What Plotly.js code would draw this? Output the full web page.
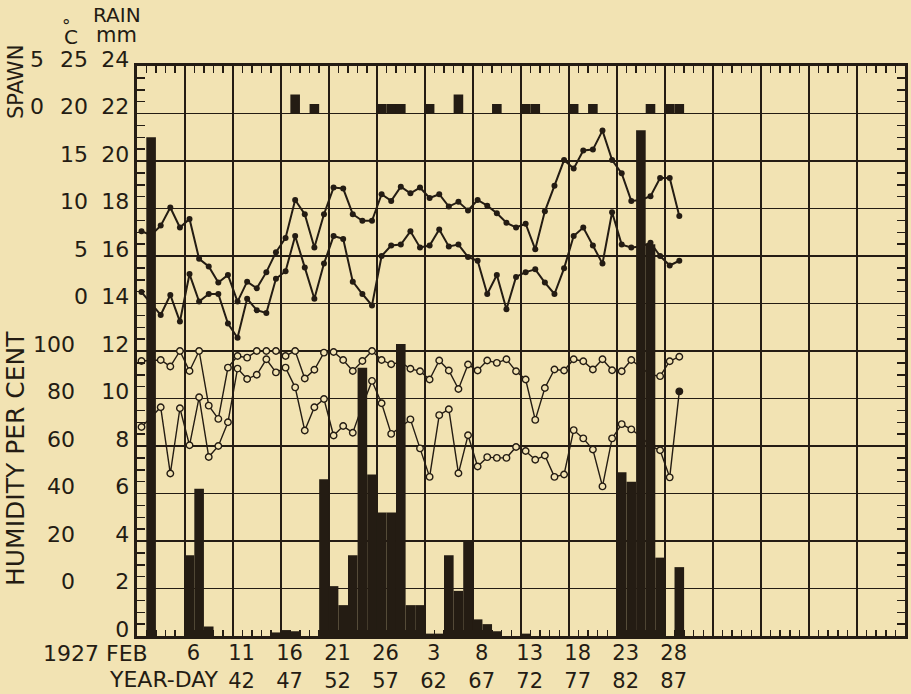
<!DOCTYPE html>
<html>
<head>
<meta charset="utf-8">
<script src="https://cdn.plot.ly/plotly-3.0.1.min.js"></script>
<style>
  html, body { margin: 0; padding: 0; background: #f2e3b3; }
  #chart { width: 911px; height: 694px; }
  #err { position: absolute; left: 150px; top: 80px; width: 700px; font: 13px monospace; color: #b00; white-space: pre-wrap; }
</style>
</head>
<body>
<div id="chart"></div>
<div id="err"></div>
<script>
function report(m) { document.getElementById('err').textContent += m + '\n'; }
window.addEventListener('unhandledrejection', ev => report('REJ: ' + (ev.reason && ev.reason.stack ? ev.reason.stack.slice(0, 400) : ev.reason)));

// ---------------- DATA ----------------
// Day index: 1 = 1 Feb 1927 ... 57 = 29 Mar 1927
const days = [1,2,3,4,5,6,7,8,9,10,11,12,13,14,15,16,17,18,19,20,
  21,22,23,24,25,26,27,28,29,30,31,32,33,34,35,36,37,38,39,40,
  41,42,43,44,45,46,47,48,49,50,51,52,53,54,55,56,57];

// Air temperature, deg C (upper = maximum, lower = minimum)
const tempMax = [7.6,7.2,8.2,10.1,8.0,8.9,4.7,3.9,2.2,3.0,
  0.2,2.3,1.6,3.3,5.4,6.9,10.9,9.4,5.9,9.4,
  12.2,12.1,9.4,8.7,8.7,11.5,10.8,12.3,11.6,12.2,
  11.1,11.5,10.2,10.7,9.8,10.9,10.3,9.5,8.5,8.0,
  8.4,5.7,9.7,12.4,15.1,14.2,16.1,16.2,18.2,15.1,
  13.7,10.8,10.9,11.3,13.2,13.2,9.2];
const tempMin = [1.2,0.0,-1.2,0.9,-1.9,3.1,0.2,1.0,1.0,-2.1,
  -3.6,0.5,-0.7,-1.0,2.6,3.4,7.1,3.8,0.5,4.2,
  7.1,6.8,2.3,1.0,-0.2,5.0,6.1,6.2,7.6,5.9,
  6.1,7.8,6.0,6.2,4.9,4.5,1.0,3.0,-0.6,2.8,
  3.3,3.6,2.2,1.0,3.7,7.1,8.0,6.1,4.2,9.6,
  6.2,5.9,6.0,6.4,5.0,4.0,4.5];

// Relative humidity, per cent
const humHigh = [95.8,96,96.2,93.5,100,91.6,100,77,71.4,93,
  97.9,97.2,100,100,100,97.9,100,88.4,92.1,99.3,
  99.6,96.2,91.6,95.8,100,96.2,94.4,95.3,92.5,91.5,
  88,96,91.8,84,94.3,91.8,96,95,96.5,91.5,
  88,71,84.4,92.2,91.8,96.5,95.7,92.2,96.5,91.9,
  91.5,96.2,93,90,89.4,95.7,97.6];
const humLow = [68,72,76.3,48.4,75.9,60.3,80.5,55.4,60,70,
  92.6,88.2,90,96.5,91,93,84.7,66.5,76.3,79.8,
  64.4,68.4,65.6,77,87.4,78,65.1,68,71.2,59,
  47,73,75.5,48.5,64.5,51.4,55.3,55,55,59.6,
  57.9,54.2,56,47,48,66.7,63.2,58.5,43,63.2,
  69.2,67,64,60,58.2,46.8,83];

// Rain, mm per day
const rain = [0,21.0,0,0,0,3.4,6.2,0.4,0,0,
  0,0,0,0,0.15,0.25,0.2,0,0,6.6,
  2.1,1.3,3.4,11.3,6.8,5.2,5.2,12.3,1.3,1.3,
  0.1,0.1,3.4,1.9,4.0,0.7,0.5,0.2,0,0,
  0.1,0,0,0,0,0,0,0,0,0,
  6.9,6.5,21.3,16.5,3.3,0,2.9];

// Spawnings
const spawnDays  = [17,19,26,27,28,31,34,38,41,42,46,48,54,56,57];
const spawnCount = [2,1,1,1,1,1,2,1,1,1,1,1,1,1,1];

// Axis ticks / labels
const labelDays    = [6,11,16,21,26,31,36,41,46,51,56];
const labelDate    = ['6','11','16','21','26','3','8','13','18','23','28'];
const labelYearDay = ['','42','47','52','57','62','67','72','77','82','87'];
const mmTicks    = [0,2,4,6,8,10,12,14,16,18,20,22,24];
const tempTicks  = [0,5,10,15,20,25];
const humTicks   = [0,20,40,60,80,100];
const spawnTicks = [0,5];

// ---------------- STYLE ----------------
const BG = '#f2e3b3';
const INK = '#241c13';
const FONT = 'DejaVu Sans';
const W = 911, H = 694, ML = 0, MR = 6, MT = 66, MB = 58;
const PW = W - ML - MR, PH = H - MT - MB;
const px = x => (x - ML) / PW;
const py = y => (H - MB - y) / PH;
const XR = [0.5, 80.5];
const YR = [0, 24];
const xDom = [px(136.7), 1];

const tickText = labelDate.map((d, i) => labelYearDay[i] ? d + '<br>' + labelYearDay[i] : d + '<br> ');
const humLowColors = humLow.map((v, i) => i === humLow.length - 1 ? INK : BG);

const none = (xa, ya) => ({ x: [null], y: [null], xaxis: xa, yaxis: ya, type: 'scatter',
  mode: 'markers', hoverinfo: 'skip', showlegend: false });

const traces = [
  none('x', 'y'),
  none('x2', 'y'), none('x3', 'y'), none('x4', 'y'), none('x', 'y6'), none('x', 'y7'),
  { x: days, y: tempMax, xaxis: 'x', yaxis: 'y2', type: 'scatter', mode: 'lines+markers',
    line: { color: INK, width: 2 }, marker: { color: INK, size: 6 } },
  { x: days, y: tempMin, xaxis: 'x', yaxis: 'y2', type: 'scatter', mode: 'lines+markers',
    line: { color: INK, width: 2 }, marker: { color: INK, size: 6 } },
  { x: days, y: humHigh, xaxis: 'x', yaxis: 'y3', type: 'scatter', mode: 'lines+markers',
    line: { color: INK, width: 1.4 },
    marker: { color: BG, size: 6.5, line: { color: INK, width: 1.4 } } },
  { x: days, y: humLow, xaxis: 'x', yaxis: 'y3', type: 'scatter', mode: 'lines+markers',
    line: { color: INK, width: 1.4 },
    marker: { color: humLowColors, size: 6.5, line: { color: INK, width: 1.4 } } },
  { x: spawnDays, y: spawnCount, xaxis: 'x', yaxis: 'y4', type: 'bar', width: 1,
    marker: { color: INK, line: { width: 0 } } },
  { x: days, y: rain, xaxis: 'x', yaxis: 'y5', type: 'bar', width: 1,
    marker: { color: INK, line: { width: 0 } } }
];

const tf = size => ({ family: FONT, size: size, color: INK });
const tickAxis = (extra) => Object.assign({
  ticks: 'inside', ticklen: 7, tickwidth: 1.5, tickcolor: INK,
  showticklabels: false, showgrid: false, zeroline: false, showline: false
}, extra);

const layout = {
  width: W, height: H,
  margin: { l: ML, r: MR, t: MT, b: MB, pad: 0 },
  paper_bgcolor: BG, plot_bgcolor: 'rgba(0,0,0,0)',
  showlegend: false, hovermode: false,
  barmode: 'overlay',
  font: tf(20),
  xaxis: {
    domain: xDom, range: XR, anchor: 'y',
    tickmode: 'array', tickvals: labelDays, ticktext: tickText,
    ticks: '', showgrid: false, zeroline: false,
    showline: true, mirror: true, linecolor: INK, linewidth: 3,
    tickfont: tf(21), ticklabelshift: 4, ticklabelstandoff: -4
  },
  // vertical grid every five days
  xaxis2: tickAxis({ overlaying: 'x', anchor: 'y', side: 'bottom', range: XR,
    tickmode: 'linear', tick0: 0.5, dtick: 5, ticks: '',
    showgrid: true, gridcolor: INK, gridwidth: 1.8 }),
  // daily ticks, top and bottom
  xaxis3: tickAxis({ overlaying: 'x', anchor: 'y', side: 'top', range: XR,
    tickmode: 'linear', tick0: 0.5, dtick: 1 }),
  xaxis4: tickAxis({ overlaying: 'x', anchor: 'y', side: 'bottom', range: XR,
    tickmode: 'linear', tick0: 0.5, dtick: 1, ticklen: 6 }),
  yaxis: {
    domain: [0, 1], range: YR, anchor: 'x',
    tickmode: 'array', tickvals: mmTicks, ticks: '',
    showgrid: true, gridcolor: INK, gridwidth: 1.8,
    showline: true, mirror: true, linecolor: INK, linewidth: 3, zeroline: false,
    tickfont: tf(22), ticklabelshift: -7, ticklabelstandoff: 0
  },
  yaxis2: {
    overlaying: 'y', anchor: 'free', position: px(88), side: 'left',
    range: [-35, 25], tickmode: 'array', tickvals: tempTicks,
    ticks: '', showgrid: false, zeroline: false, showline: false,
    tickfont: tf(22), ticklabelshift: -7
  },
  yaxis3: {
    overlaying: 'y', anchor: 'free', position: px(75), side: 'left',
    range: [-20, 220], tickmode: 'array', tickvals: humTicks,
    ticks: '', showgrid: false, zeroline: false, showline: false,
    tickfont: tf(22), ticklabelshift: -7
  },
  yaxis4: {
    overlaying: 'y', anchor: 'free', position: px(44), side: 'left',
    range: [-55, 5], tickmode: 'array', tickvals: spawnTicks,
    ticks: '', showgrid: false, zeroline: false, showline: false,
    tickfont: tf(22), ticklabelshift: -7
  },
  yaxis5: { overlaying: 'y', anchor: 'x', range: YR, visible: false },
  // half-millimetre ticks on both sides
  yaxis6: tickAxis({ overlaying: 'y', anchor: 'x', side: 'right', range: YR,
    tickmode: 'linear', tick0: 0, dtick: 0.5, ticklen: 8 }),
  yaxis7: tickAxis({ overlaying: 'y', anchor: 'x', side: 'left', range: YR,
    tickmode: 'linear', tick0: 0, dtick: 0.5, ticklen: 8 }),
  annotations: [
    { text: 'RAIN', x: px(117), y: py(15), xref: 'paper', yref: 'paper', showarrow: false,
      xanchor: 'center', yanchor: 'middle', font: tf(20) },
    { text: '°', x: px(66), y: py(26), xref: 'paper', yref: 'paper', showarrow: false,
      xanchor: 'center', yanchor: 'middle', font: tf(17) },
    { text: 'C', x: px(71), y: py(37), xref: 'paper', yref: 'paper', showarrow: false,
      xanchor: 'center', yanchor: 'middle', font: tf(20) },
    { text: 'mm', x: px(117), y: py(35.5), xref: 'paper', yref: 'paper', showarrow: false,
      xanchor: 'center', yanchor: 'middle', font: tf(21) },
    { text: 'SPAWN', x: px(16), y: py(82), xref: 'paper', yref: 'paper', showarrow: false,
      xanchor: 'center', yanchor: 'middle', textangle: -90, font: tf(21) },
    { text: 'HUMIDITY PER CENT', x: px(16), y: py(459), xref: 'paper', yref: 'paper', showarrow: false,
      xanchor: 'center', yanchor: 'middle', textangle: -90, font: tf(25) },
    { text: '1927 FEB', x: px(150), y: py(653), xref: 'paper', yref: 'paper', showarrow: false,
      xanchor: 'right', yanchor: 'middle', font: tf(22) },
    { text: 'YEAR-DAY', x: px(221), y: py(679), xref: 'paper', yref: 'paper', showarrow: false,
      xanchor: 'right', yanchor: 'middle', font: tf(22) }
  ]
};

const p = Plotly.newPlot('chart', traces, layout, { staticPlot: true, displayModeBar: false });
if (p && p.catch) p.catch(e => report('CATCH: ' + (e && e.stack ? e.stack.slice(0, 400) : e)));
</script>
</body>
</html>
